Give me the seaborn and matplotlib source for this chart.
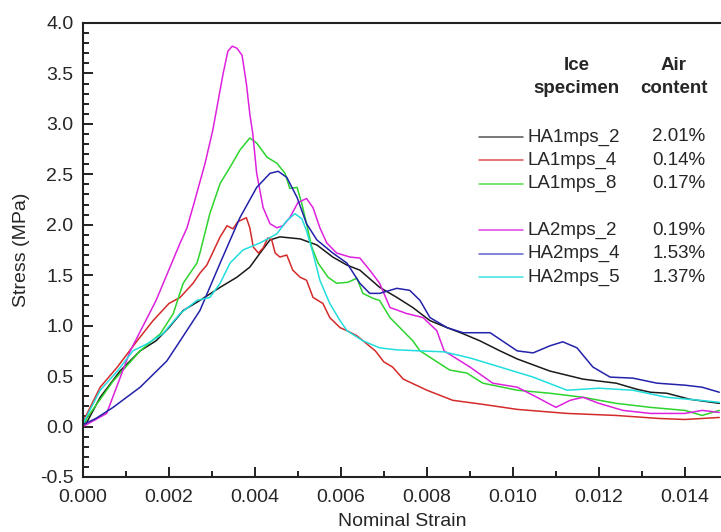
import numpy as np
import pandas as pd
import seaborn as sns
import matplotlib.pyplot as plt
from matplotlib.ticker import MultipleLocator, FormatStrFormatter

specimens = ["HA1mps_2", "LA1mps_4", "LA1mps_8", "LA2mps_2", "HA2mps_4", "HA2mps_5"]
air_content = ["2.01%", "0.14%", "0.17%", "0.19%", "1.53%", "1.37%"]
colors = ["#1a1a1a", "#d42a2a", "#2ed42e", "#dd22dd", "#2222aa", "#22dddd"]
legend_colors = ["#555555", "#e05050", "#50e050", "#e040e0", "#6060d0", "#40e0e0"]

ha1_2_strain = [0, 0.0001, 0.0004, 0.00086, 0.00133, 0.0017, 0.002, 0.00233, 0.00272, 0.00319,
                0.00358, 0.00388, 0.00412, 0.00435, 0.00458, 0.00505, 0.00544, 0.00581, 0.00614,
                0.00644, 0.0069, 0.0073, 0.00767, 0.00807, 0.00847, 0.00884, 0.00923, 0.0097,
                0.0101, 0.01086, 0.01163, 0.0124, 0.01288, 0.0132, 0.01358, 0.01412, 0.0148]
ha1_2_stress = [0.0, 0.05, 0.29, 0.55, 0.75, 0.85, 0.98, 1.15, 1.25, 1.38,
                1.48, 1.58, 1.72, 1.85, 1.88, 1.86, 1.80, 1.68, 1.60,
                1.55, 1.38, 1.28, 1.18, 1.05, 0.98, 0.92, 0.85, 0.75,
                0.67, 0.55, 0.47, 0.43, 0.37, 0.34, 0.33, 0.27, 0.23]

la1_4_strain = [0, 0.00005, 0.0004, 0.0008, 0.00126, 0.00163, 0.002, 0.00226, 0.00256, 0.00272,
                0.00288, 0.00319, 0.00335, 0.00349, 0.0036, 0.0038, 0.00388, 0.00396, 0.00408,
                0.00419, 0.0043, 0.00439, 0.00447, 0.00458, 0.00474, 0.00488, 0.00505, 0.0052,
                0.00535, 0.00558, 0.00574, 0.00598, 0.00614, 0.00637, 0.0066, 0.0068, 0.007,
                0.0072, 0.00745, 0.008, 0.0086, 0.0093, 0.0101, 0.01126, 0.0124, 0.0134, 0.014,
                0.0148]
la1_4_stress = [0, 0.09, 0.39, 0.59, 0.85, 1.05, 1.22, 1.28, 1.42, 1.52,
                1.60, 1.88, 1.99, 1.96, 2.03, 2.07, 1.97, 1.78, 1.72,
                1.77, 1.87, 1.85, 1.72, 1.68, 1.70, 1.55, 1.48, 1.45,
                1.28, 1.22, 1.08, 0.98, 0.95, 0.90, 0.82, 0.75, 0.64,
                0.59, 0.47, 0.36, 0.26, 0.22, 0.17, 0.13, 0.11, 0.08, 0.07,
                0.09]

la1_8_strain = [0, 0.0001, 0.0007, 0.00133, 0.0018, 0.0021, 0.00233, 0.00265, 0.00272, 0.00295,
                0.00319, 0.00342, 0.00365, 0.00388, 0.00404, 0.00428, 0.00451, 0.0047, 0.00481,
                0.00498, 0.00509, 0.0052, 0.00532, 0.00547, 0.0057, 0.0059, 0.00616, 0.00637,
                0.00651, 0.00675, 0.0069, 0.00714, 0.00744, 0.00767, 0.00784, 0.00853, 0.00893,
                0.0093, 0.0101, 0.01086, 0.01163, 0.0124, 0.0132, 0.014, 0.0144, 0.0148]
la1_8_stress = [0, 0.09, 0.45, 0.75, 0.92, 1.12, 1.42, 1.62, 1.72, 2.11,
                2.41, 2.57, 2.74, 2.86, 2.81, 2.67, 2.61, 2.51, 2.36,
                2.37, 2.21, 2.01, 1.78, 1.62, 1.48, 1.42, 1.43, 1.47,
                1.32, 1.27, 1.25, 1.08, 0.95, 0.85, 0.75, 0.56, 0.53,
                0.43, 0.36, 0.33, 0.29, 0.23, 0.19, 0.16, 0.11, 0.16]

la2_2_strain = [0, 0.00055, 0.0011, 0.0017, 0.00226, 0.00242, 0.0026, 0.00284, 0.00302, 0.00326,
                0.00337, 0.00347, 0.00358, 0.0037, 0.0038, 0.00388, 0.00395, 0.00404, 0.00419,
                0.00435, 0.00451, 0.00465, 0.00481, 0.005, 0.0052, 0.00535, 0.00551, 0.00567,
                0.0059, 0.00621, 0.00644, 0.00667, 0.0069, 0.00714, 0.00753, 0.00791, 0.00823,
                0.0084, 0.009, 0.00953, 0.0101, 0.01056, 0.011, 0.01133, 0.01163, 0.012,
                0.01256, 0.0132, 0.014, 0.0144, 0.0148]
la2_2_stress = [0, 0.13, 0.75, 1.25, 1.82, 1.97, 2.24, 2.61, 2.94, 3.50,
                3.72, 3.77, 3.75, 3.68, 3.40, 3.10, 2.90, 2.51, 2.17,
                2.01, 1.97, 1.99, 2.07, 2.22, 2.26, 2.17, 1.97, 1.82,
                1.72, 1.68, 1.67, 1.55, 1.42, 1.18, 1.12, 1.08, 0.95,
                0.75, 0.59, 0.43, 0.39, 0.29, 0.19, 0.26, 0.29, 0.23,
                0.16, 0.13, 0.13, 0.16, 0.14]

ha2_4_strain = [0, 0.0003, 0.0007, 0.00133, 0.00195, 0.00226, 0.00272, 0.00319, 0.00365, 0.00404,
                0.00435, 0.00454, 0.00474, 0.00498, 0.0052, 0.00544, 0.00581, 0.00614, 0.00644,
                0.00667, 0.0069, 0.0073, 0.0076, 0.00784, 0.00807, 0.00847, 0.00884, 0.00947,
                0.0101, 0.01047, 0.01086, 0.01116, 0.01149, 0.01186, 0.01226, 0.01279, 0.01335,
                0.014, 0.0144, 0.0148]
ha2_4_stress = [0.02, 0.08, 0.19, 0.39, 0.65, 0.85, 1.15, 1.62, 2.07, 2.37,
                2.51, 2.53, 2.47, 2.27, 2.01, 1.85, 1.72, 1.62, 1.42,
                1.32, 1.32, 1.37, 1.35, 1.25, 1.08, 0.98, 0.93, 0.93,
                0.75, 0.73, 0.80, 0.84, 0.78, 0.59, 0.49, 0.48, 0.43,
                0.41, 0.39, 0.34]

ha2_5_strain = [0, 0.0004, 0.0008, 0.00116, 0.00149, 0.00186, 0.00226, 0.00265, 0.00295, 0.00319,
                0.00342, 0.00372, 0.00412, 0.00451, 0.00474, 0.00493, 0.00509, 0.0052, 0.00535,
                0.00551, 0.00574, 0.00598, 0.00614, 0.00651, 0.0069, 0.0073, 0.0084, 0.009,
                0.0097, 0.01047, 0.01126, 0.012, 0.01279, 0.01358, 0.01435, 0.0148]
ha2_5_stress = [0.03, 0.36, 0.55, 0.75, 0.82, 0.92, 1.12, 1.25, 1.28, 1.42,
                1.62, 1.75, 1.82, 1.91, 2.04, 2.11, 2.06, 1.94, 1.72,
                1.45, 1.22, 1.05, 0.95, 0.85, 0.78, 0.76, 0.74, 0.68,
                0.59, 0.49, 0.36, 0.38, 0.36, 0.29, 0.26, 0.24]

curves = [(ha1_2_strain, ha1_2_stress), (la1_4_strain, la1_4_stress), (la1_8_strain, la1_8_stress),
          (la2_2_strain, la2_2_stress), (ha2_4_strain, ha2_4_stress), (ha2_5_strain, ha2_5_stress)]

frames = []
for name, (x, y) in zip(specimens, curves):
    frames.append(pd.DataFrame({"strain": x, "stress": y, "specimen": name}))
df = pd.concat(frames, ignore_index=True)

sns.set_style("ticks")
plt.rcParams["font.family"] = ["Liberation Sans", "DejaVu Sans"]

fig = plt.figure(figsize=(7.21, 5.32), dpi=100)
ax = fig.add_axes([0.1151, 0.1034, 0.8849, 0.8534])

sns.lineplot(data=df, x="strain", y="stress", hue="specimen", hue_order=specimens,
             palette=dict(zip(specimens, colors)), sort=False, estimator=None,
             linewidth=1.1, legend=False, ax=ax)

ax.set_xlim(0, 0.01484)
ax.set_ylim(-0.5, 4.0)
ax.xaxis.set_major_locator(MultipleLocator(0.002))
ax.xaxis.set_minor_locator(MultipleLocator(0.001))
ax.yaxis.set_major_locator(MultipleLocator(0.5))
ax.yaxis.set_minor_locator(MultipleLocator(0.1))
ax.xaxis.set_major_formatter(FormatStrFormatter("%.3f"))
ax.yaxis.set_major_formatter(FormatStrFormatter("%.1f"))
ax.tick_params(which="both", direction="in", width=1.4, color="#222222", labelsize=14)
ax.tick_params(which="major", length=7)
ax.tick_params(which="minor", length=4)
ax.tick_params(axis="x", which="major", pad=9)
ax.tick_params(axis="y", which="major", pad=7)
ax.tick_params(axis="x", which="both", top=False)

for side in ["left", "bottom", "top"]:
    ax.spines[side].set_linewidth(1.5)
    ax.spines[side].set_color("#222222")
ax.spines["top"].set_visible(True)
ax.spines["right"].set_visible(False)

ax.set_xlabel("Nominal Strain", fontsize=14, labelpad=5)
ax.set_ylabel("Stress (MPa)", fontsize=14, labelpad=7)

# legend drawn as a small table: line sample, specimen name, air content
ax.text(0.774, 0.907, "Ice", transform=ax.transAxes, ha="center", va="center",
        fontsize=13.5, fontweight="bold")
ax.text(0.774, 0.855, "specimen", transform=ax.transAxes, ha="center", va="center",
        fontsize=13.5, fontweight="bold")
ax.text(0.926, 0.907, "Air", transform=ax.transAxes, ha="center", va="center",
        fontsize=13.5, fontweight="bold")
ax.text(0.926, 0.855, "content", transform=ax.transAxes, ha="center", va="center",
        fontsize=13.5, fontweight="bold")

row_step = 0.0515
for i, (name, pct, c) in enumerate(zip(specimens, air_content, legend_colors)):
    row = i if i < 3 else i + 1
    yy = 0.749 - row * row_step
    ax.plot([0.621, 0.690], [yy, yy], transform=ax.transAxes, color=c, lw=1.1)
    ax.text(0.697, yy, name, transform=ax.transAxes, ha="left", va="center", fontsize=13.5)
    ax.text(0.976, yy, pct, transform=ax.transAxes, ha="right", va="center", fontsize=13.5)

fig.savefig("out.png", dpi=100)
